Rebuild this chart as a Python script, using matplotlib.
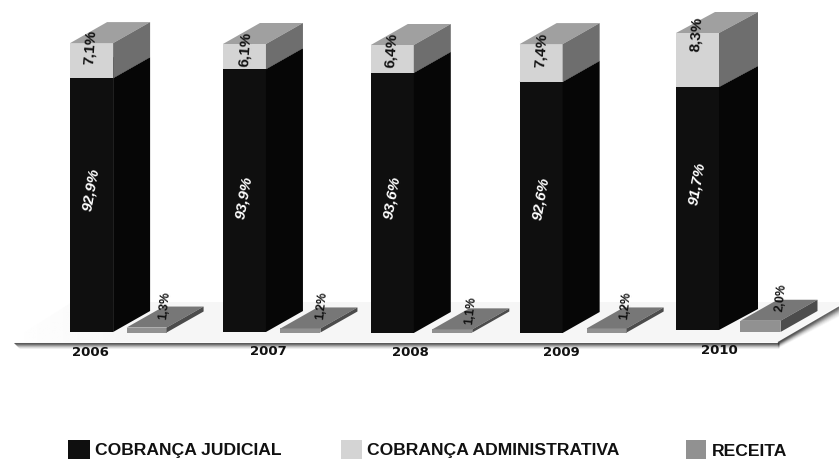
import matplotlib

matplotlib.use("Agg")
import matplotlib.pyplot as plt
import numpy as np
from matplotlib.patches import Polygon, Rectangle

YEARS = ["2006", "2007", "2008", "2009", "2010"]
JUDICIAL = [92.9, 93.9, 93.6, 92.6, 91.7]
# segment heights as drawn, read on the judicial scale (the printed % are not to scale)
ADMIN_DRAWN = [3.9, 2.8, 3.1, 4.2, 6.0]
RECEITA = [1.3, 1.2, 1.1, 1.2, 2.0]
JUDICIAL_LABELS = ["92,9%", "93,9%", "93,6%", "92,6%", "91,7%"]
ADMIN_LABELS = ["7,1%", "6,1%", "6,4%", "7,4%", "8,3%"]
RECEITA_LABELS = ["1,3%", "1,2%", "1,1%", "1,2%", "2,0%"]
LEGEND_NAMES = ["COBRANÇA JUDICIAL", "COBRANÇA ADMINISTRATIVA", "RECEITA"]

# layout, in pixels of the 839x459 picture
W, H = 839, 459
PX_PER_CAT = 150.85
PX_PER_UNIT = 9.0
CAT0_PX = 91.6
FLOOR_VALUE = 64.7
RECEITA_FLOOR = 0.75
BASE_PX = 332
X_NUDGE = [0, 2, -1, -3, 2.5]
BASE_NUDGE = [0, 0, 1, 1, -2]
RECEITA_SHIFT = [55, 56, 60, 65.5, 63]
RECEITA_BASE_PX = [332.5, 332.5, 332.5, 332.5, 332]
BAR_W = 43
RECEITA_W = 40
DEPTH_X = [37, 37, 37, 37, 39]
DEPTH_Y = 21

JUDICIAL_TXT = [(91, 190), (244, 198), (392, 198), (541, 199), (697, 184)]
ADMIN_TXT = [(90, 47), (245, 49), (391, 50), (541, 50), (696, 34)]
RECEITA_TXT = [(165, 305), (322, 306), (471, 310), (626, 306), (781, 298)]
YEAR_TXT = [(90, 352), (268, 351.5), (410, 352), (561, 352), (719, 351)]

BLACK = ("#0f0f0f", "#060606", "#060606")
LIGHT = ("#d4d4d4", "#a0a0a0", "#6e6e6e")
GREY = ("#919191", "#777777", "#4c4c4c")

plt.rcParams["font.family"] = ["Liberation Sans", "DejaVu Sans"]


def draw_block(ax, x_left, width, bottom, height, dx, dy, colors):
    """One 3D block: real bar for the front, two parallelograms for top and side."""
    front, top, side = colors
    ax.bar(x_left, height, width, bottom=bottom, align="edge", color=front, linewidth=0)
    y_top = bottom + height
    x_right = x_left + width
    ax.fill(
        [x_left, x_right, x_right + dx, x_left + dx],
        [y_top, y_top, y_top + dy, y_top + dy],
        color=top,
        linewidth=0,
    )
    ax.fill(
        [x_right, x_right + dx, x_right + dx, x_right],
        [bottom, bottom + dy, y_top + dy, y_top],
        color=side,
        linewidth=0,
    )


def draw_floor(pix):
    """Pale platform with its blurred shadow, in picture pixels."""
    # soft shadow along the front edge
    for k, alpha in enumerate([0.8, 0.68, 0.5, 0.32, 0.18, 0.08]):
        pix.plot([14 + k, 779], [342.5 + k, 342.5 + k], color="#333333", lw=0.75,
                 alpha=alpha, solid_capstyle="butt")
    # wider, fainter one along the right edge
    for k, alpha in enumerate([0.7, 0.6, 0.5, 0.4, 0.3, 0.22, 0.15, 0.1, 0.06, 0.03]):
        pix.plot([778, 839], [342.5 + k * 0.6, 307 + k], color="#333333", lw=0.9,
                 alpha=alpha, solid_capstyle="butt")

    floor = Polygon([(10, 342), (72, 302), (839, 302), (839, 305), (777, 342)],
                    facecolor="none", lw=0)
    pix.add_patch(floor)
    fade = np.linspace(1.0, 0.965, 64).reshape(1, -1)
    img = pix.imshow(fade, extent=(10, 130, 342, 302), cmap="gray", vmin=0, vmax=1,
                     aspect="auto", zorder=1)
    img.set_clip_path(floor)
    pix.add_patch(
        Polygon([(130, 342), (130, 302), (839, 302), (839, 305), (777, 342)],
                color="#f6f6f6", lw=0, zorder=1)
    )
    pix.set_xlim(0, W)
    pix.set_ylim(H, 0)


def draw_legend(pix):
    swatches = [(68, 22, BLACK[0]), (341, 21, LIGHT[0]), (686, 20, GREY[0])]
    text_pos = [(95, 451), (367, 451), (712, 451.5)]
    for (x, w, col), name, (tx, ty) in zip(swatches, LEGEND_NAMES, text_pos):
        pix.add_patch(Rectangle((x, 440), w, 19, color=col, lw=0))
        pix.text(tx, ty, name, fontsize=12.6, fontweight="bold", color="#111111",
                 va="center", ha="left")


def main():
    fig = plt.figure(figsize=(W / 100, H / 100), dpi=100)

    pix = fig.add_axes([0, 0, 1, 1], zorder=0)
    pix.set_xlim(0, W)
    pix.set_ylim(H, 0)
    pix.axis("off")

    ax = fig.add_axes([0, 0, 1, 1], zorder=1)
    ax.set_xlim(-CAT0_PX / PX_PER_CAT, (W - CAT0_PX) / PX_PER_CAT)
    ax.set_ylim(
        FLOOR_VALUE - (H - BASE_PX) / PX_PER_UNIT,
        FLOOR_VALUE + BASE_PX / PX_PER_UNIT,
    )
    ax.axis("off")

    draw_floor(pix)

    for i in range(len(YEARS)):
        center = i + X_NUDGE[i] / PX_PER_CAT
        dx = DEPTH_X[i] / PX_PER_CAT
        dy = DEPTH_Y / PX_PER_UNIT
        width = BAR_W / PX_PER_CAT
        base = FLOOR_VALUE - BASE_NUDGE[i] / PX_PER_UNIT
        judicial_h = JUDICIAL[i] - FLOOR_VALUE

        draw_block(ax, center - width / 2, width, base, judicial_h, dx, dy, BLACK)
        draw_block(ax, center - width / 2, width, base + judicial_h, ADMIN_DRAWN[i], dx, dy, LIGHT)

        rec_center = center + RECEITA_SHIFT[i] / PX_PER_CAT
        rec_w = RECEITA_W / PX_PER_CAT
        rec_base = FLOOR_VALUE - (RECEITA_BASE_PX[i] - BASE_PX) / PX_PER_UNIT
        draw_block(ax, rec_center - rec_w / 2, rec_w, rec_base, RECEITA[i] - RECEITA_FLOOR,
                   37 / PX_PER_CAT, dy, GREY)

    for (x, y), label in zip(JUDICIAL_TXT, JUDICIAL_LABELS):
        ax.text(x, y, label, transform=pix.transData, color="white", fontsize=11,
                fontweight="bold", fontstyle="italic", rotation=80,
                ha="center", va="center")
    for (x, y), label in zip(ADMIN_TXT, ADMIN_LABELS):
        ax.text(x, y, label, transform=pix.transData, color="#111111", fontsize=11,
                fontweight="bold", rotation=86, ha="center", va="center")
    for (x, y), label in zip(RECEITA_TXT, RECEITA_LABELS):
        ax.text(x, y, label, transform=pix.transData, color="#111111", fontsize=8.8,
                fontweight="bold", rotation=84, ha="center", va="center")
    for (x, y), label in zip(YEAR_TXT, YEARS):
        ax.text(x, y, label, transform=pix.transData, color="#111111", fontsize=9.5,
                fontweight="bold", family="DejaVu Sans", ha="center", va="center")

    draw_legend(pix)

    fig.savefig("out.png", dpi=100)
    plt.close(fig)


if __name__ == "__main__":
    main()
